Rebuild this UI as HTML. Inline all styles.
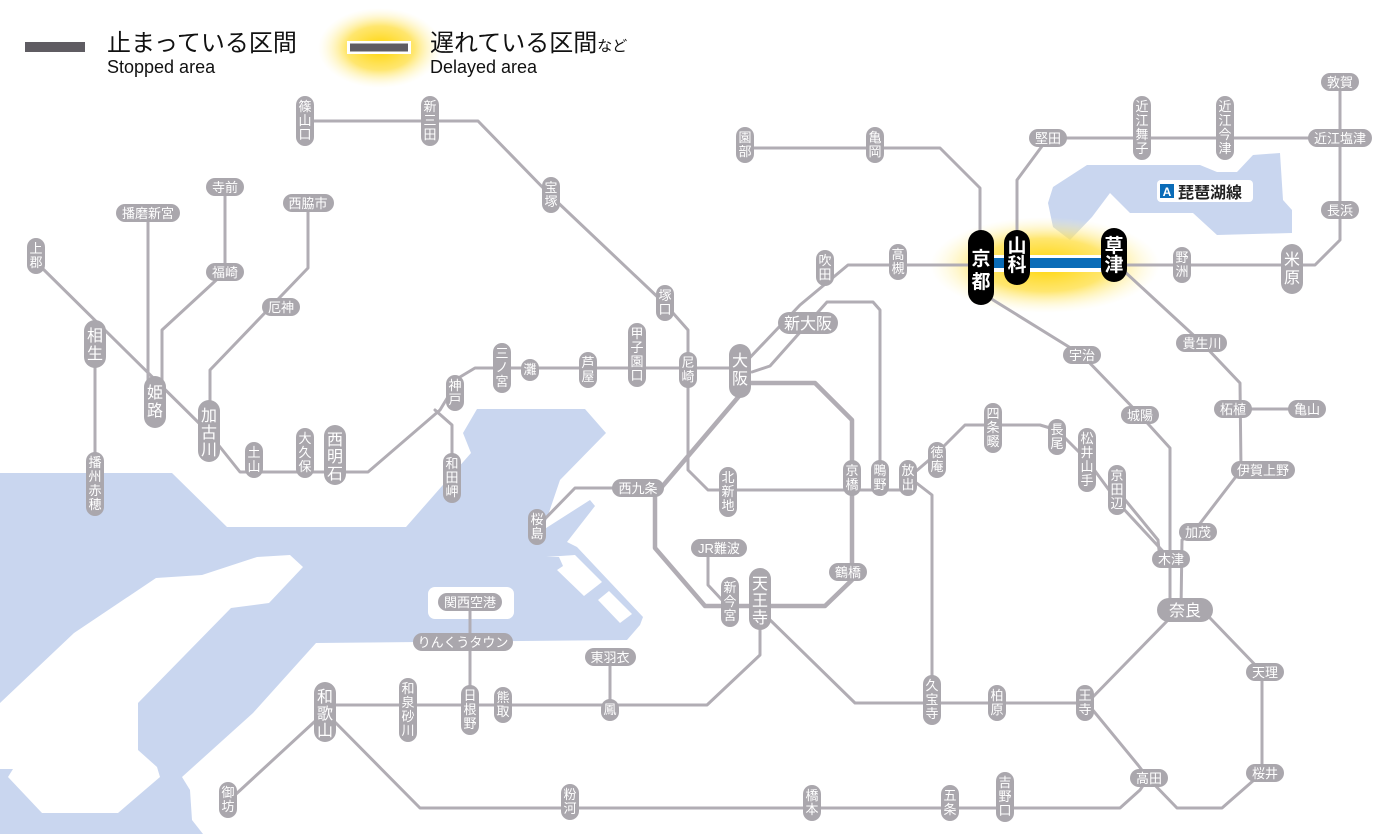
<!DOCTYPE html>
<html><head><meta charset="utf-8"><style>
html,body{margin:0;padding:0;background:#fff;}
svg{display:block;}
.ln{fill:none;stroke:#b1adb4;stroke-width:3;stroke-linejoin:round;stroke-linecap:round;}
.lk{fill:none;stroke:#b1adb4;stroke-width:4.5;stroke-linejoin:round;}
.p{fill:#aaa7ad;}
.t{fill:#fff;font-family:"Liberation Sans","Noto Sans CJK JP",sans-serif;font-size:13px;text-anchor:middle;}
.T{fill:#fff;font-family:"Liberation Sans","Noto Sans CJK JP",sans-serif;font-size:16px;text-anchor:middle;}
.B{fill:#fff;font-family:"Liberation Sans","Noto Sans CJK JP",sans-serif;font-size:19px;font-weight:bold;text-anchor:middle;}
.lg{font-family:"Liberation Sans","Noto Sans CJK JP",sans-serif;fill:#111;}
</style></head><body>
<svg width="1400" height="834" viewBox="0 0 1400 834" xmlns="http://www.w3.org/2000/svg">
<defs>
<radialGradient id="gl" cx="50%" cy="50%" r="50%">
<stop offset="0" stop-color="#ffd400" stop-opacity="1"/>
<stop offset="0.55" stop-color="#ffe04a" stop-opacity="0.8"/>
<stop offset="1" stop-color="#fff6c0" stop-opacity="0"/>
</radialGradient>
</defs>
<path fill="#c9d6ef" d="M0,473 L172,473 L227,527 L406,527 L471,453 L463,433 L477,409 L585,409 L606,433 L560,480 L543,530 L590,500 L595,506 L567,542 L577,547 L643,617 L640,625 L627,640 L316,643 L253,713 L182,777 L190,790 L192,820 L203,834 L0,834 Z"/>
<path fill="#fff" d="M303,567 L290,555 L257,557 L202,575 L156,578 L74,633 L0,703 L0,769 L13,769 L8,777 L42,813 L118,813 L160,777 L157,767 L138,750 L138,703 L231,608 L269,603 Z"/>
<path fill="#fff" d="M546,557 L559,557 L563,566 L557,570 L584,596 L602,582 L575,555 Z"/>
<path fill="#fff" d="M598,600 L620,623 L632,614 L609,591 Z"/>
<rect x="428" y="587" width="86" height="32" rx="7" fill="#fff"/>
<path fill="#c9d6ef" d="M1087,165 L1200,165 L1217,172 L1237,172 L1253,155 L1280,153 L1283,200 L1292,210 L1292,233 L1217,235 L1193,213 L1130,213 L1110,193 L1092,217 L1070,240 L1053,227 L1048,203 L1053,187 Z"/>
<rect x="25" y="42" width="60" height="10" fill="#5f5c62"/>
<text x="107" y="51" class="lg" font-size="24">止まっている区間</text>
<text x="107" y="73" class="lg" font-size="18">Stopped area</text>
<ellipse cx="380" cy="48" rx="62" ry="40" fill="url(#gl)"/>
<rect x="347" y="41" width="64" height="13" fill="#fff"/>
<rect x="350" y="43.5" width="58" height="8" fill="#5f5c62"/>
<text x="430" y="51" class="lg" font-size="24">遅れている区間<tspan font-size="15">など</tspan></text>
<text x="430" y="73" class="lg" font-size="18">Delayed area</text>
<ellipse cx="1045" cy="265" rx="115" ry="48" fill="url(#gl)"/>
<g class="ln">
<polyline points="36,255 36,262 208,432 240,472 368,472 440,410 460,377 475,368 740,368"/>
<polyline points="95,342 95,510"/>
<polyline points="148,213 148,390"/>
<polyline points="225,187 225,272 162,330 162,390"/>
<polyline points="308,203 308,268 210,370 210,420"/>
<polyline points="435,410 452,425 452,470"/>
<polyline points="305,121 478,121 551,196 665,304 688,330 688,470 708,490 908,490"/>
<polyline points="740,368 800,305 848,265 1290,265 1315,265 1340,240 1340,82"/>
<polyline points="752,372 770,366 827,302 873,302 880,310 880,490"/>
<polyline points="537,527 575,488 638,488"/>
<polyline points="708,548 708,585 722,600 735,603"/>
<polyline points="765,615 855,703 1087,703 1170,618"/>
<polyline points="760,620 760,655 707,705 325,705"/>
<polyline points="470,602 470,705"/>
<polyline points="610,657 610,705"/>
<polyline points="325,712 235,795"/>
<polyline points="325,712 420,808 1120,808 1140,790 1148,778"/>
<polyline points="1087,703 1138,765 1148,778 1177,808 1222,808 1262,773 1262,672 1210,618"/>
<polyline points="985,295 1082,355 1140,415 1170,448 1170,610"/>
<polyline points="1117,490 1158,540 1160,560"/>
<polyline points="1171,560 1120,505 1087,460 1057,430 1040,425 965,425 935,455 908,478"/>
<polyline points="1125,272 1202,343 1240,383 1241,470 1195,530 1182,540 1181,610"/>
<polyline points="1233,409 1307,409"/>
<polyline points="1017,245 1017,180 1048,138 1340,138"/>
<polyline points="745,148 940,148 980,188 980,240"/>
<polyline points="910,478 932,495 932,690"/>
</g>
<g class="lk">
<polyline points="740,383 815,383 852,420 852,580 825,606 705,606 655,548 655,495 740,395"/>
</g>
<rect x="993" y="255" width="115" height="17" fill="#fff"/>
<rect x="993" y="258" width="115" height="10" fill="#0a6cb8"/>
<g class="p">
<rect x="27" y="238" width="18" height="36" rx="9"/>
<rect x="86" y="452" width="18" height="64" rx="9"/>
<rect x="245" y="442" width="18" height="36" rx="9"/>
<rect x="296" y="428" width="18" height="50" rx="9"/>
<rect x="446" y="375" width="18" height="36" rx="9"/>
<rect x="443" y="453" width="18" height="50" rx="9"/>
<rect x="493" y="343" width="18" height="50" rx="9"/>
<rect x="521" y="359" width="18" height="22" rx="9"/>
<rect x="579" y="352" width="18" height="36" rx="9"/>
<rect x="628" y="323" width="18" height="64" rx="9"/>
<rect x="679" y="352" width="18" height="36" rx="9"/>
<rect x="296" y="96" width="18" height="50" rx="9"/>
<rect x="421" y="96" width="18" height="50" rx="9"/>
<rect x="542" y="177" width="18" height="36" rx="9"/>
<rect x="656" y="285" width="18" height="36" rx="9"/>
<rect x="816" y="250" width="18" height="36" rx="9"/>
<rect x="889" y="244" width="18" height="36" rx="9"/>
<rect x="736" y="127" width="18" height="36" rx="9"/>
<rect x="866" y="127" width="18" height="36" rx="9"/>
<rect x="1133" y="96" width="18" height="64" rx="9"/>
<rect x="1216" y="96" width="18" height="64" rx="9"/>
<rect x="1173" y="247" width="18" height="36" rx="9"/>
<rect x="1076" y="685" width="18" height="36" rx="9"/>
<rect x="988" y="685" width="18" height="36" rx="9"/>
<rect x="923" y="675" width="18" height="50" rx="9"/>
<rect x="899" y="460" width="18" height="36" rx="9"/>
<rect x="871" y="460" width="18" height="36" rx="9"/>
<rect x="843" y="460" width="18" height="36" rx="9"/>
<rect x="719" y="467" width="18" height="50" rx="9"/>
<rect x="528" y="509" width="18" height="36" rx="9"/>
<rect x="721" y="577" width="18" height="50" rx="9"/>
<rect x="928" y="442" width="18" height="36" rx="9"/>
<rect x="984" y="403" width="18" height="50" rx="9"/>
<rect x="1048" y="419" width="18" height="36" rx="9"/>
<rect x="1078" y="428" width="18" height="64" rx="9"/>
<rect x="1108" y="465" width="18" height="50" rx="9"/>
<rect x="601" y="699" width="18" height="22" rx="9"/>
<rect x="494" y="687" width="18" height="36" rx="9"/>
<rect x="461" y="685" width="18" height="50" rx="9"/>
<rect x="399" y="678" width="18" height="64" rx="9"/>
<rect x="219" y="782" width="18" height="36" rx="9"/>
<rect x="561" y="784" width="18" height="36" rx="9"/>
<rect x="803" y="785" width="18" height="36" rx="9"/>
<rect x="941" y="785" width="18" height="36" rx="9"/>
<rect x="996" y="772" width="18" height="50" rx="9"/>
<rect x="84" y="320" width="22" height="48" rx="11"/>
<rect x="144" y="376" width="22" height="52" rx="11"/>
<rect x="198" y="400" width="22" height="62" rx="11"/>
<rect x="324" y="425" width="22" height="60" rx="11"/>
<rect x="729" y="344" width="22" height="54" rx="11"/>
<rect x="749" y="568" width="22" height="62" rx="11"/>
<rect x="314" y="682" width="22" height="60" rx="11"/>
<rect x="1281" y="244" width="22" height="50" rx="11"/>
<rect x="116" y="204" width="64" height="18" rx="9"/>
<rect x="206" y="178" width="38" height="18" rx="9"/>
<rect x="206" y="263" width="38" height="18" rx="9"/>
<rect x="283" y="194" width="51" height="18" rx="9"/>
<rect x="262" y="298" width="38" height="18" rx="9"/>
<rect x="1029" y="129" width="38" height="18" rx="9"/>
<rect x="1308" y="129" width="64" height="18" rx="9"/>
<rect x="1321" y="73" width="38" height="18" rx="9"/>
<rect x="1321" y="201" width="38" height="18" rx="9"/>
<rect x="1063" y="346" width="38" height="18" rx="9"/>
<rect x="1176" y="334" width="51" height="18" rx="9"/>
<rect x="1121" y="406" width="38" height="18" rx="9"/>
<rect x="1214" y="400" width="38" height="18" rx="9"/>
<rect x="1288" y="400" width="38" height="18" rx="9"/>
<rect x="1231" y="461" width="64" height="18" rx="9"/>
<rect x="1179" y="523" width="38" height="18" rx="9"/>
<rect x="1152" y="550" width="38" height="18" rx="9"/>
<rect x="1246" y="663" width="38" height="18" rx="9"/>
<rect x="1246" y="764" width="38" height="18" rx="9"/>
<rect x="1130" y="769" width="38" height="18" rx="9"/>
<rect x="612" y="479" width="52" height="18" rx="9"/>
<rect x="691" y="539" width="56" height="18" rx="9"/>
<rect x="829" y="563" width="38" height="18" rx="9"/>
<rect x="438" y="593" width="64" height="18" rx="9"/>
<rect x="413" y="633" width="100" height="18" rx="9"/>
<rect x="585" y="648" width="51" height="18" rx="9"/>
<rect x="778" y="312" width="60" height="22" rx="11"/>
<rect x="1157" y="598" width="56" height="24" rx="12"/>
</g>
<rect x="968" y="230" width="26" height="75" rx="13" fill="#000"/>
<rect x="1004" y="230" width="26" height="55" rx="13" fill="#000"/>
<rect x="1101" y="228" width="26" height="54" rx="13" fill="#000"/>
<text class="B" x="981" y="265">京</text><text class="B" x="981" y="288">都</text>
<text class="B" x="1017" y="252" font-size="17">山</text><text class="B" x="1017" y="271" font-size="17">科</text>
<text class="B" x="1114" y="252" font-size="17">草</text><text class="B" x="1114" y="271" font-size="17">津</text>
<g class="t">
<text x="36" y="253">上</text><text x="36" y="267">郡</text>
<text x="95" y="467">播</text><text x="95" y="481">州</text><text x="95" y="495">赤</text><text x="95" y="509">穂</text>
<text x="254" y="457">土</text><text x="254" y="471">山</text>
<text x="305" y="443">大</text><text x="305" y="457">久</text><text x="305" y="471">保</text>
<text x="455" y="390">神</text><text x="455" y="404">戸</text>
<text x="452" y="468">和</text><text x="452" y="482">田</text><text x="452" y="496">岬</text>
<text x="502" y="358">三</text><text x="502" y="372">ノ</text><text x="502" y="386">宮</text>
<text x="530" y="374">灘</text>
<text x="588" y="367">芦</text><text x="588" y="381">屋</text>
<text x="637" y="338">甲</text><text x="637" y="352">子</text><text x="637" y="366">園</text><text x="637" y="380">口</text>
<text x="688" y="367">尼</text><text x="688" y="381">崎</text>
<text x="305" y="111">篠</text><text x="305" y="125">山</text><text x="305" y="139">口</text>
<text x="430" y="111">新</text><text x="430" y="125">三</text><text x="430" y="139">田</text>
<text x="551" y="192">宝</text><text x="551" y="206">塚</text>
<text x="665" y="300">塚</text><text x="665" y="314">口</text>
<text x="825" y="265">吹</text><text x="825" y="279">田</text>
<text x="898" y="259">高</text><text x="898" y="273">槻</text>
<text x="745" y="142">園</text><text x="745" y="156">部</text>
<text x="875" y="142">亀</text><text x="875" y="156">岡</text>
<text x="1142" y="111">近</text><text x="1142" y="125">江</text><text x="1142" y="139">舞</text><text x="1142" y="153">子</text>
<text x="1225" y="111">近</text><text x="1225" y="125">江</text><text x="1225" y="139">今</text><text x="1225" y="153">津</text>
<text x="1182" y="262">野</text><text x="1182" y="276">洲</text>
<text x="1085" y="700">王</text><text x="1085" y="714">寺</text>
<text x="997" y="700">柏</text><text x="997" y="714">原</text>
<text x="932" y="690">久</text><text x="932" y="704">宝</text><text x="932" y="718">寺</text>
<text x="908" y="475">放</text><text x="908" y="489">出</text>
<text x="880" y="475">鴫</text><text x="880" y="489">野</text>
<text x="852" y="475">京</text><text x="852" y="489">橋</text>
<text x="728" y="482">北</text><text x="728" y="496">新</text><text x="728" y="510">地</text>
<text x="537" y="524">桜</text><text x="537" y="538">島</text>
<text x="730" y="592">新</text><text x="730" y="606">今</text><text x="730" y="620">宮</text>
<text x="937" y="457">徳</text><text x="937" y="471">庵</text>
<text x="993" y="418">四</text><text x="993" y="432">条</text><text x="993" y="446">畷</text>
<text x="1057" y="434">長</text><text x="1057" y="448">尾</text>
<text x="1087" y="443">松</text><text x="1087" y="457">井</text><text x="1087" y="471">山</text><text x="1087" y="485">手</text>
<text x="1117" y="480">京</text><text x="1117" y="494">田</text><text x="1117" y="508">辺</text>
<text x="610" y="714">鳳</text>
<text x="503" y="702">熊</text><text x="503" y="716">取</text>
<text x="470" y="700">日</text><text x="470" y="714">根</text><text x="470" y="728">野</text>
<text x="408" y="693">和</text><text x="408" y="707">泉</text><text x="408" y="721">砂</text><text x="408" y="735">川</text>
<text x="228" y="797">御</text><text x="228" y="811">坊</text>
<text x="570" y="799">粉</text><text x="570" y="813">河</text>
<text x="812" y="800">橋</text><text x="812" y="814">本</text>
<text x="950" y="800">五</text><text x="950" y="814">条</text>
<text x="1005" y="787">吉</text><text x="1005" y="801">野</text><text x="1005" y="815">口</text>
<text x="148" y="218">播磨新宮</text>
<text x="225" y="192">寺前</text>
<text x="225" y="277">福崎</text>
<text x="308" y="208">西脇市</text>
<text x="281" y="312">厄神</text>
<text x="1048" y="143">堅田</text>
<text x="1340" y="143">近江塩津</text>
<text x="1340" y="87">敦賀</text>
<text x="1340" y="215">長浜</text>
<text x="1082" y="360">宇治</text>
<text x="1202" y="348">貴生川</text>
<text x="1140" y="420">城陽</text>
<text x="1233" y="414">柘植</text>
<text x="1307" y="414">亀山</text>
<text x="1263" y="475">伊賀上野</text>
<text x="1198" y="537">加茂</text>
<text x="1171" y="564">木津</text>
<text x="1265" y="677">天理</text>
<text x="1265" y="778">桜井</text>
<text x="1149" y="783">高田</text>
<text x="638" y="493">西九条</text>
<text x="719" y="553">JR難波</text>
<text x="848" y="577">鶴橋</text>
<text x="470" y="607">関西空港</text>
<text x="463" y="647">りんくうタウン</text>
<text x="610" y="662">東羽衣</text>
</g>
<g class="T">
<text x="95" y="341">相</text><text x="95" y="359">生</text>
<text x="155" y="398">姫</text><text x="155" y="416">路</text>
<text x="209" y="421">加</text><text x="209" y="438">古</text><text x="209" y="455">川</text>
<text x="335" y="445">西</text><text x="335" y="462">明</text><text x="335" y="479">石</text>
<text x="740" y="366">大</text><text x="740" y="384">阪</text>
<text x="760" y="589">天</text><text x="760" y="606">王</text><text x="760" y="623">寺</text>
<text x="325" y="702">和</text><text x="325" y="719">歌</text><text x="325" y="736">山</text>
<text x="1292" y="265">米</text><text x="1292" y="283">原</text>
<text x="808" y="329">新大阪</text>
<text x="1185" y="616">奈良</text>
</g>
<rect x="1157" y="180" width="96" height="22" rx="4" fill="#fff"/>
<rect x="1160" y="184" width="14" height="14" fill="#0a6cb8"/>
<text x="1167" y="196" fill="#fff" font-family="Liberation Sans,sans-serif" font-size="12" font-weight="bold" text-anchor="middle">A</text>
<text x="1178" y="198" fill="#222" font-family="Liberation Sans,'Noto Sans CJK JP',sans-serif" font-size="16" font-weight="bold">琵琶湖線</text>
</svg>
</body></html>
